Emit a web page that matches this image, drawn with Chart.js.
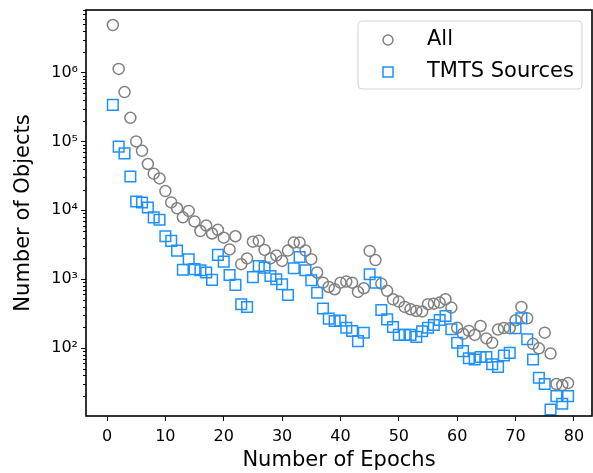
<!DOCTYPE html>
<html>
<head>
<meta charset="utf-8">
<script src="https://cdn.jsdelivr.net/npm/chart.js@4/dist/chart.umd.min.js"></script>
<style>
  html, body { margin: 0; padding: 0; background: #fff; }
  #wrap { width: 593px; height: 473px; }
</style>
</head>
<body>
<div id="wrap"><canvas id="grafico" width="593" height="473"></canvas></div>
<script>
// epochs 1..79
const epochs = Array.from({ length: 79 }, (_, i) => i + 1);

const allObjects = [
  4.9e6, 1.13e6, 5.2e5, 2.2e5, 1.0e5, 7.3e4, 4.7e4, 3.4e4, 2.9e4, 1.9e4,
  1.3e4, 1.07e4, 7900, 9800, 6900, 5000, 6000, 4600, 5200, 4000,
  2700, 4200, 1650, 2000, 3500, 3600, 2660, 2000, 2200, 1840,
  2600, 3400, 3400, 2600, 1950, 1250, 890, 770, 714, 890,
  922, 890, 653, 738, 2570, 1890, 861, 676, 510, 473,
  395, 366, 345, 340, 433, 441, 457, 510, 386, 197,
  161, 177, 155, 209, 138, 119, 185, 195, 194, 253,
  395, 270, 115, 99, 167, 83, 30, 29, 31
];

const tmtsSources = [
  3.4e5, 8.4e4, 6.7e4, 3.1e4, 1.34e4, 1.3e4, 1.1e4, 7900, 7300, 4200,
  3600, 2600, 1370, 1950, 1400, 1350, 1250, 975, 2250, 1800,
  1150, 825, 433, 395, 1070, 1550, 1470, 1110, 998, 844,
  590, 1440, 2100, 1350, 966, 636, 375, 267, 247, 250,
  197, 177, 126, 167, 1180, 890, 357, 261, 202, 155,
  155, 155, 145, 175, 197, 216, 255, 292, 187, 119,
  90, 71, 68, 74, 74, 58, 53, 78, 85, 194,
  270, 134, 68, 37, 30, 12.8, 20, 15.5, 20
];

const xTicks = [0, 10, 20, 30, 40, 50, 60, 70, 80];
const yTicks = [1e2, 1e3, 1e4, 1e5, 1e6];
const sup = { '2': '²', '3': '³', '4': '⁴', '5': '⁵', '6': '⁶' };

Chart.defaults.font.family = '"DejaVu Sans", sans-serif';
Chart.defaults.color = '#000';

// moldura, ticks menores e legenda
const extras = {
  id: 'extras',
  afterDraw(chart) {
    const { ctx, chartArea: a, scales: { y } } = chart;
    ctx.save();
    ctx.strokeStyle = '#000';
    ctx.lineWidth = 1.6;
    ctx.strokeRect(a.left, a.top, a.right - a.left, a.bottom - a.top);

    ctx.lineWidth = 1;
    for (let p = 1; p <= 6; p++) {
      for (let m = 2; m <= 9; m++) {
        const v = m * Math.pow(10, p);
        if (v < y.min || v > y.max) continue;
        const py = Math.round(y.getPixelForValue(v)) + 0.5;
        ctx.beginPath();
        ctx.moveTo(a.left - 3, py);
        ctx.lineTo(a.left, py);
        ctx.stroke();
      }
    }

    // legenda
    const bx = 358, by = 21, bw = 224, bh = 68, r = 4;
    ctx.beginPath();
    ctx.moveTo(bx + r, by);
    ctx.arcTo(bx + bw, by, bx + bw, by + bh, r);
    ctx.arcTo(bx + bw, by + bh, bx, by + bh, r);
    ctx.arcTo(bx, by + bh, bx, by, r);
    ctx.arcTo(bx, by, bx + bw, by, r);
    ctx.closePath();
    ctx.fillStyle = 'rgba(255,255,255,0.8)';
    ctx.fill();
    ctx.strokeStyle = '#d3d3d3';
    ctx.lineWidth = 1;
    ctx.stroke();

    const ds = chart.data.datasets;
    ctx.lineWidth = 1.5;
    ctx.strokeStyle = ds[0].borderColor;
    ctx.beginPath();
    ctx.arc(388, 40, 5, 0, Math.PI * 2);
    ctx.stroke();
    ctx.strokeStyle = ds[1].borderColor;
    ctx.strokeRect(383, 67, 10, 10);

    ctx.fillStyle = '#000';
    ctx.font = '21px "DejaVu Sans"';
    ctx.textBaseline = 'middle';
    ctx.fillText(ds[0].label, 427, 40);
    ctx.fillText(ds[1].label, 427, 72);
    ctx.restore();
  }
};

new Chart(document.getElementById('grafico'), {
  type: 'scatter',
  data: {
    datasets: [
      {
        label: 'All',
        data: epochs.map((e, i) => ({ x: e, y: allObjects[i] })),
        pointStyle: 'circle',
        pointRadius: 5.5,
        borderColor: '#808080',
        backgroundColor: 'rgba(0,0,0,0)',
        borderWidth: 1.5,
        order: 2
      },
      {
        label: 'TMTS Sources',
        data: epochs.map((e, i) => ({ x: e, y: tmtsSources[i] })),
        pointStyle: 'rect',
        pointRadius: 7.5,
        borderColor: '#1e90ff',
        backgroundColor: 'rgba(0,0,0,0)',
        borderWidth: 1.5,
        order: 1
      }
    ]
  },
  options: {
    responsive: false,
    animation: false,
    layout: { autoPadding: false, padding: { top: 10, right: 1, left: 0, bottom: 0 } },
    plugins: { legend: { display: false }, tooltip: { enabled: false } },
    scales: {
      x: {
        type: 'linear',
        min: -3.6,
        max: 83.1,
        afterBuildTicks: s => { s.ticks = xTicks.map(v => ({ value: v })); },
        afterFit: s => { s.height = 57; s.paddingLeft = 0; s.paddingRight = 0; },
        grid: { drawOnChartArea: false, tickLength: 5, tickColor: '#000', tickWidth: 1 },
        border: { display: false },
        ticks: { font: { size: 16 }, padding: 6, maxRotation: 0 },
        title: { display: true, text: 'Number of Epochs', font: { size: 21 }, padding: { top: 0, bottom: 0 } }
      },
      y: {
        type: 'logarithmic',
        min: 10.3,
        max: 8.1e6,
        afterBuildTicks: s => { s.ticks = yTicks.map(v => ({ value: v })); },
        afterFit: s => { s.width = 86; s.paddingTop = 0; s.paddingBottom = 0; },
        grid: { drawOnChartArea: false, tickLength: 5, tickColor: '#000', tickWidth: 1 },
        border: { display: false },
        ticks: {
          font: { size: 16 },
          padding: 3,
          callback: v => '10' + sup[String(Math.round(Math.log10(v)))]
        },
        title: { display: true, text: 'Number of Objects', font: { size: 21 }, padding: { top: 11, bottom: 0 } }
      }
    }
  },
  plugins: [extras]
});
</script>
</body>
</html>
